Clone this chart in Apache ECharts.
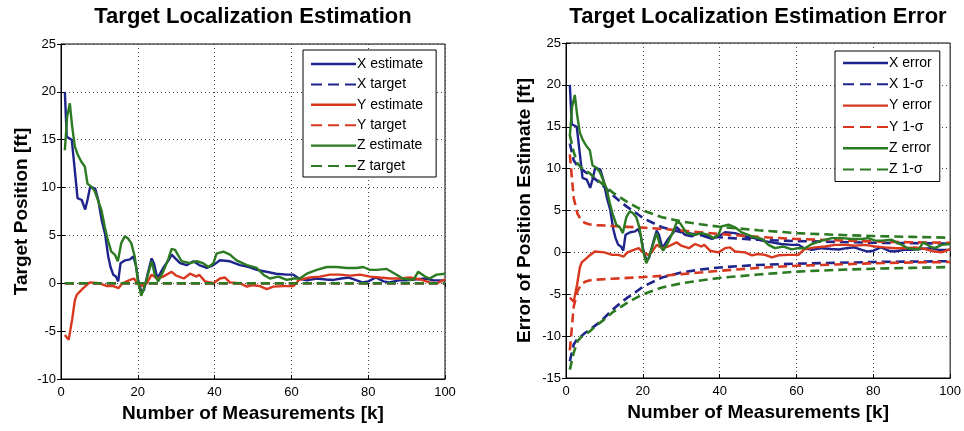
<!DOCTYPE html>
<html>
<head>
<meta charset="utf-8">
<script src="https://cdn.jsdelivr.net/npm/echarts/dist/echarts.min.js"></script>
<style>
  html, body { margin: 0; padding: 0; background: #ffffff; }
  #chart { width: 964px; height: 431px; }
</style>
</head>
<body>
<div id="chart"></div>
<script>
// ---- Measurement index (k) and estimates, shared by both panels ----
const xK = [1, 1.5, 2.8, 3.6, 4.3, 5.4, 6.3, 6.9, 7.6, 8.9, 9.7, 10.6, 11.5, 12.3, 12.9, 13.6, 14.3, 14.9, 15.5, 16.7, 18, 18.8, 19.5, 20.1, 21, 21.6, 22.7, 23.6, 24.2, 25.1, 26.6, 28, 28.8, 31, 32.7, 34.5, 36, 38, 39.7, 41.4, 44, 46.6, 49, 51, 53.5, 56, 58.8, 60.5, 62, 64, 66.6, 69, 71, 73, 75, 77, 78.5, 80, 82, 84, 85.5, 88, 90, 92, 95, 97, 100];
const xEstimate = [20, 15.3, 15, 11.8, 8.9, 8.7, 7.7, 8.7, 10.1, 9.9, 8.7, 6.6, 5.1, 2.8, 1.7, 0.9, 0.7, 0.2, 2.1, 2.4, 2.5, 2.8, 1.9, 0.35, -1.0, -0.7, 1.2, 2.6, 2.1, 0.5, 1.6, 2.4, 3.0, 2.1, 1.9, 2.3, 1.9, 1.6, 1.9, 2.4, 2.3, 1.9, 1.7, 1.4, 1.2, 1.0, 0.9, 0.9, 0.5, 0.3, 0.5, 0.4, 0.35, 0.5, 0.6, 0.3, 0.1, 0.2, 0.6, 0.2, 0.1, 0.3, 0.3, 0.4, 0.5, 0.3, 0.3];

const yK = [1, 2, 2.9, 3.6, 4.1, 5.8, 7.5, 10, 12, 13.6, 15, 16, 18, 19, 19.7, 20.5, 21.4, 22.3, 23.6, 25, 26.6, 28.8, 30, 32, 33.6, 35.3, 36, 37.5, 39.7, 41.4, 42.7, 44, 46.6, 48.4, 50, 51.8, 53.6, 55.3, 57.9, 60.5, 62, 64.8, 67.4, 70, 72.7, 75.3, 77.9, 80.5, 83, 85.7, 88.3, 90.9, 93.5, 96, 97.8, 100];
const yEstimate = [-5.4, -5.9, -3.8, -1.8, -1.2, -0.5, 0.1, 0, -0.3, -0.3, -0.5, 0, 0.35, 0.5, 0.1, -0.1, -0.3, 0, 0.9, 0.5, 0.7, 1.2, 0.8, 0.5, 1.0, 0.7, 0.9, 0.2, 0, 0.5, 0.6, 0.1, 0, -0.35, -0.2, -0.3, -0.6, -0.35, -0.3, -0.3, 0.35, 0.6, 0.7, 0.9, 0.9, 0.8, 0.9, 0.7, 0.6, 0.5, 0.5, 0.6, 0.4, 0.1, 0, 0.4];

const zK = [1, 1.6, 2.3, 2.9, 3.6, 4.4, 5.3, 6.2, 6.9, 7.9, 8.8, 9.6, 10.5, 11.4, 12.2, 13.1, 14, 14.8, 15.7, 16.6, 17.4, 18.3, 19.2, 20, 20.9, 21.8, 22.7, 23.6, 24.5, 25.3, 26.6, 28, 28.8, 29.7, 31.4, 33.6, 35.3, 37, 38.4, 39.7, 40.5, 42.3, 44, 45.7, 48.4, 51, 52.7, 54.4, 56.6, 58.8, 60.5, 62.2, 64, 66.6, 69.2, 71.8, 74.4, 77, 78.7, 80.5, 82.2, 84.8, 87.4, 89, 91.8, 93, 94.8, 96, 97.8, 100];
const zEstimate = [13.9, 17.4, 18.8, 16.4, 14.3, 13.4, 12.7, 12.2, 10.4, 10.1, 9.6, 8.7, 7.7, 5.9, 4.5, 3.3, 3.0, 2.3, 4.2, 4.9, 4.7, 4.2, 2.8, 0.3, -1.3, -0.3, 1.0, 2.3, 0.8, 0.2, 1.2, 2.6, 3.6, 3.5, 2.3, 2.1, 2.3, 2.1, 1.7, 2.1, 3.1, 3.3, 3.0, 2.4, 1.9, 1.6, 0.9, 0.5, 0.7, 0.35, 0.5, 0.5, 1.0, 1.4, 1.7, 1.7, 1.6, 1.6, 1.7, 1.4, 1.4, 1.5, 0.9, 0.5, 0.35, 1.2, 0.7, 0.5, 0.9, 1.0];

// True target position (all axes at the origin)
const targetK = [1, 100];
const xTarget = [0, 0];
const yTarget = [0, 0];
const zTarget = [0, 0];

// 1-sigma bounds of the filter covariance
const sigmaK = [1, 2, 3, 4, 5, 6, 8, 10, 12, 14, 16, 18, 20, 25, 30, 35, 40, 50, 60, 70, 80, 90, 100];
const xSigma = [13, 11, 10.3, 10, 9.6, 9.3, 8.6, 7.8, 6.9, 6.1, 5.4, 4.8, 4.1, 3.0, 2.4, 2.05, 1.8, 1.5, 1.35, 1.25, 1.15, 1.1, 1.05];
const ySigma = [11.7, 6.5, 4.6, 3.8, 3.5, 3.35, 3.25, 3.2, 3.15, 3.1, 3.05, 3.0, 2.95, 2.8, 2.6, 2.4, 2.2, 1.85, 1.6, 1.45, 1.3, 1.2, 1.15];
const zSigma = [14, 12, 10.6, 10.1, 9.8, 9.5, 8.7, 8.0, 7.2, 6.6, 6.0, 5.5, 5.0, 4.2, 3.7, 3.35, 3.05, 2.65, 2.3, 2.1, 1.95, 1.85, 1.75];

// Axis ticks
const kTicks = { min: 0, max: 100, interval: 20 };
const leftTicks = { min: -10, max: 25, interval: 5 };
const rightTicks = { min: -15, max: 25, interval: 5 };

// ---- styling ----
const FONT = "'Liberation Sans', Arial, sans-serif";
const BLUE = '#1f248c';
const RED = '#d8381f';
const GREEN = '#2c7a22';
const DASH = [9, 5];
const DASH_ICON = 'path://M0,0h11v2h-11z M17,0h11v2h-11z M34,0h11v2h-11z';

const pairs = (ks, vs) => ks.map((k, i) => [k, vs[i]]);
const negate = vs => vs.map(v => -v);

function line(name, ks, vs, color, dashed, xi, yi, z) {
  return {
    name, type: 'line', xAxisIndex: xi, yAxisIndex: yi,
    data: pairs(ks, vs), showSymbol: false, symbol: 'none',
    lineStyle: { color, width: dashed ? 2.6 : 2.4, type: dashed ? DASH : 'solid' },
    itemStyle: { color }, z: z || 2, animation: false, silent: true
  };
}

function xAxisFor(gi) {
  return {
    type: 'value', gridIndex: gi, ...kTicks,
    name: 'Number of Measurements [k]', nameLocation: 'middle', nameGap: 23,
    nameTextStyle: { fontFamily: FONT, fontSize: 19, fontWeight: 'bold', color: '#000' },
    axisLine: { onZero: false, lineStyle: { color: '#000', width: 1 } },
    axisTick: { inside: true, length: 4, lineStyle: { color: '#000' } },
    axisLabel: { fontFamily: FONT, fontSize: 13, color: '#000', margin: 7 },
    splitLine: { show: true, lineStyle: { color: '#444', type: [1, 3], width: 1 } }
  };
}
function topAxisFor(gi) {
  return {
    type: 'value', gridIndex: gi, position: 'top', ...kTicks,
    axisLine: { show: false }, axisLabel: { show: false }, splitLine: { show: false },
    axisTick: { inside: true, length: 4, lineStyle: { color: '#000' } }
  };
}
function yAxisFor(gi, ticks, name, gap) {
  return {
    type: 'value', gridIndex: gi, ...ticks,
    name, nameLocation: 'middle', nameGap: gap,
    nameTextStyle: { fontFamily: FONT, fontSize: 19, fontWeight: 'bold', color: '#000' },
    axisLine: { onZero: false, lineStyle: { color: '#000', width: 1 } },
    axisTick: { inside: true, length: 4, lineStyle: { color: '#000' } },
    axisLabel: { fontFamily: FONT, fontSize: 13, color: '#000', margin: 5 },
    splitLine: { show: true, lineStyle: { color: '#444', type: [1, 3], width: 1 } }
  };
}
function rightAxisFor(gi, ticks) {
  return {
    type: 'value', gridIndex: gi, position: 'right', ...ticks,
    axisLine: { show: false }, axisLabel: { show: false }, splitLine: { show: false },
    axisTick: { inside: true, length: 4, lineStyle: { color: '#000' } }
  };
}

function legendFor(left, top, items, gap, pad) {
  return {
    left, top, orient: 'vertical', selectedMode: false,
    itemWidth: 45, itemHeight: 2.4, itemGap: gap,
    padding: pad,
    backgroundColor: '#fff', borderColor: '#000', borderWidth: 1,
    textStyle: { fontFamily: FONT, fontSize: 14, color: '#000', padding: [0, 0, 0, -4] },
    data: items.map(([name, dashed]) => ({ name, icon: dashed ? DASH_ICON : 'rect' }))
  };
}

const option = {
  backgroundColor: '#fff',
  animation: false,
  title: [
    { text: 'Target Localization Estimation', left: 253, top: 6, textAlign: 'center', padding: 0,
      textStyle: { fontFamily: FONT, fontSize: 22, fontWeight: 'bold', color: '#000' } },
    { text: 'Target Localization Estimation Error', left: 758, top: 6, textAlign: 'center', padding: 0,
      textStyle: { fontFamily: FONT, fontSize: 22, fontWeight: 'bold', color: '#000' } }
  ],
  grid: [
    { left: 61, top: 44, width: 384, height: 335, show: true, borderColor: '#000', borderWidth: 1, backgroundColor: '#fff' },
    { left: 566, top: 43, width: 385, height: 335, show: true, borderColor: '#000', borderWidth: 1, backgroundColor: '#fff' }
  ],
  xAxis: [xAxisFor(0), xAxisFor(1), topAxisFor(0), topAxisFor(1)],
  yAxis: [
    yAxisFor(0, leftTicks, 'Target Position [ft]', 30),
    yAxisFor(1, rightTicks, 'Error of Position Estimate [ft]', 32),
    rightAxisFor(0, leftTicks), rightAxisFor(1, rightTicks)
  ],
  legend: [
    legendFor(303, 50, [['X estimate', 0], ['X target', 1], ['Y estimate', 0], ['Y target', 1], ['Z estimate', 0], ['Z target', 1]], 6.4, [7, 13, 4, 8]),
    legendFor(835, 51, [['X error', 0], ['X 1-σ', 1], ['Y error', 0], ['Y 1-σ', 1], ['Z error', 0], ['Z 1-σ', 1]], 7.3, [5, 8, 5, 8])
  ],
  series: [
    // estimation panel
    line('X estimate', xK, xEstimate, BLUE, false, 0, 0),
    line('X target', targetK, xTarget, BLUE, true, 0, 0),
    line('Y estimate', yK, yEstimate, RED, false, 0, 0),
    line('Y target', targetK, yTarget, RED, true, 0, 0, 3),
    line('Z estimate', zK, zEstimate, GREEN, false, 0, 0),
    line('Z target', targetK, zTarget, GREEN, true, 0, 0, 4),
    // error panel
    line('X error', xK, xEstimate, BLUE, false, 1, 1),
    line('X 1-σ', sigmaK, xSigma, BLUE, true, 1, 1),
    line('X 1-σ', sigmaK, negate(xSigma), BLUE, true, 1, 1),
    line('Y error', yK, yEstimate, RED, false, 1, 1),
    line('Y 1-σ', sigmaK, ySigma, RED, true, 1, 1),
    line('Y 1-σ', sigmaK, negate(ySigma), RED, true, 1, 1),
    line('Z error', zK, zEstimate, GREEN, false, 1, 1),
    line('Z 1-σ', sigmaK, zSigma, GREEN, true, 1, 1),
    line('Z 1-σ', sigmaK, negate(zSigma), GREEN, true, 1, 1)
  ]
};

const chart = echarts.init(document.getElementById('chart'), null, { renderer: 'canvas' });
chart.setOption(option);
</script>
</body>
</html>
